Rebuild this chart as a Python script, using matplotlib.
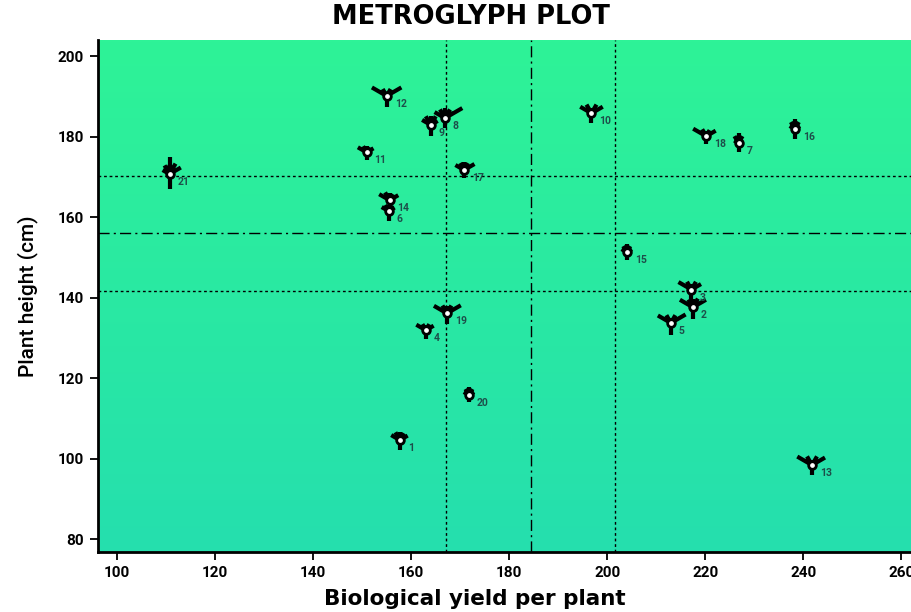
import matplotlib.pyplot as plt
import numpy as np

# genotype positions
genotypes = [str(i) for i in range(1, 22)]
yield_x = [157.7, 217.5, 217.2, 163.0, 213.0, 155.4, 226.8, 166.9, 164.0, 196.8,
           150.9, 155.0, 241.8, 155.6, 204.0, 238.3, 170.8, 220.2, 167.3, 171.8, 110.7]
height_y = [104.6, 137.6, 142.0, 131.9, 133.7, 161.5, 178.4, 184.6, 182.9, 185.8,
            176.1, 190.1, 98.4, 164.2, 151.3, 181.9, 171.7, 180.1, 136.1, 115.8, 170.7]

# ray lengths (px) for directions 270, 150, 120, 90, 60, 30 degrees
ray_angles = [270, 150, 120, 90, 60, 30]
ray_len = [
    [7, 7, 6, 5, 5, 6],     # 1
    [9, 12, 6, 5, 7, 12],   # 2
    [9, 12, 6, 3, 6, 8],    # 3
    [6, 8, 4, 2, 4, 6],     # 4
    [9, 12, 6, 2, 6, 14],   # 5
    [7, 5, 4, 3, 4, 4],     # 6
    [6, 2, 5, 7, 5, 2],     # 7
    [7, 9, 7, 7, 7, 17],    # 8
    [8, 7, 7, 6, 7, 5],     # 9
    [7, 10, 7, 2, 7, 10],   # 10
    [5, 7, 4, 3, 3, 5],     # 11
    [8, 14, 5, 0, 5, 14],   # 12
    [7, 14, 7, 2, 7, 12],   # 13
    [3, 9, 6, 4, 4, 7],     # 14
    [5, 3, 4, 5, 4, 3],     # 15
    [7, 3, 5, 7, 5, 3],     # 16
    [5, 7, 5, 5, 5, 9],     # 17
    [5, 12, 5, 2, 4, 8],    # 18
    [8, 12, 6, 4, 6, 13],   # 19
    [4, 3, 4, 5, 4, 3],     # 20
    [12, 5, 7, 14, 9, 10],  # 21
]

x_ref = [167.1, 184.5, 201.7]
y_ref = [141.6, 156.0, 170.2]

W, H = 911, 612
fig = plt.figure(figsize=(W / 100, H / 100), dpi=100)
ax = fig.add_axes([98 / W, 60 / H, (W - 98) / W, 512 / H])
ax.set_xlim(96.1, 262)
ax.set_ylim(76.8, 204)

# green gradient background
grad = np.linspace(0, 1, 256).reshape(-1, 1)
top = np.array([0x2e, 0xf3, 0x97]) / 255
bot = np.array([0x25, 0xdf, 0xae]) / 255
img = top * (1 - grad[..., None]) + bot * grad[..., None]
ax.imshow(img, extent=[96.1, 262, 76.8, 204], aspect='auto', zorder=0, origin='upper')

ax.axvline(x_ref[0], color='black', ls=(0, (2, 2)), lw=1, zorder=1)
ax.axvline(x_ref[2], color='black', ls=(0, (2, 2)), lw=1, zorder=1)
ax.axvline(x_ref[1], color='black', ls=(0, (8, 3, 1.5, 3)), lw=1, zorder=1)
ax.axhline(y_ref[0], color='black', ls=(0, (2, 2)), lw=1, zorder=1)
ax.axhline(y_ref[2], color='black', ls=(0, (2, 2)), lw=1, zorder=1)
ax.axhline(y_ref[1], color='black', ls=(0, (8, 3, 1.5, 3)), lw=1, zorder=1)

fig.canvas.draw()
to_disp = ax.transData
to_data = ax.transData.inverted()
for name, x, y, lens in zip(genotypes, yield_x, height_y, ray_len):
    cx, cy = to_disp.transform((x, y))
    tips = []
    for ang, L in zip(ray_angles, lens):
        a = np.deg2rad(ang)
        r = L + 3 if L > 0 else 2
        ex, ey = to_data.transform((cx + r * np.cos(a), cy + r * np.sin(a)))
        if L > 0:
            ax.plot([x, ex], [y, ey], color='black', lw=3.0, solid_capstyle='butt', zorder=3)
        # inner filled blob
        bx, by = to_data.transform((cx + 0.6 * r * np.cos(a), cy + 0.6 * r * np.sin(a)))
        tips.append((bx, by))
    ax.fill([t[0] for t in tips[1:]] + [x], [t[1] for t in tips[1:]] + [y],
            color='black', lw=1.5, zorder=3)
    ax.plot(x, y, 'o', ms=6.5, mfc='black', mec='black', zorder=4)
    ax.plot(x, y, 'o', ms=2.4, mfc='white', mec='white', zorder=5)
    ax.annotate(name, (x, y), xytext=(8, -11), textcoords='offset pixels',
                fontsize=7.5, fontweight='bold', color='#1d4f4a', zorder=6,
                fontfamily='Roboto')

ax.set_xticks(np.arange(100, 261, 20))
ax.set_yticks(np.arange(80, 201, 20))
ax.tick_params(direction='out', length=6, width=1.3, labelsize=11, pad=4)
for lab in ax.get_xticklabels() + ax.get_yticklabels():
    lab.set_fontweight('bold')
    lab.set_fontfamily('Roboto')
for side in ['top', 'right']:
    ax.spines[side].set_visible(False)
for side in ['left', 'bottom']:
    ax.spines[side].set_linewidth(2)

ax.set_xlabel('Biological yield per plant', fontsize=15.5, fontweight='bold',
              fontfamily='DejaVu Sans')
ax.xaxis.set_label_coords((475 - 98) / 813, -0.072)
ax.set_ylabel('Plant height (cm)', fontsize=15, fontweight='medium', fontfamily='Roboto')
ax.yaxis.set_label_coords(-0.074, 0.5)
fig.text(471 / W, 0.972, 'METROGLYPH PLOT', ha='center', va='center',
         fontsize=18.5, fontweight='bold', fontfamily='DejaVu Sans')

fig.savefig('out.png', dpi=100)
